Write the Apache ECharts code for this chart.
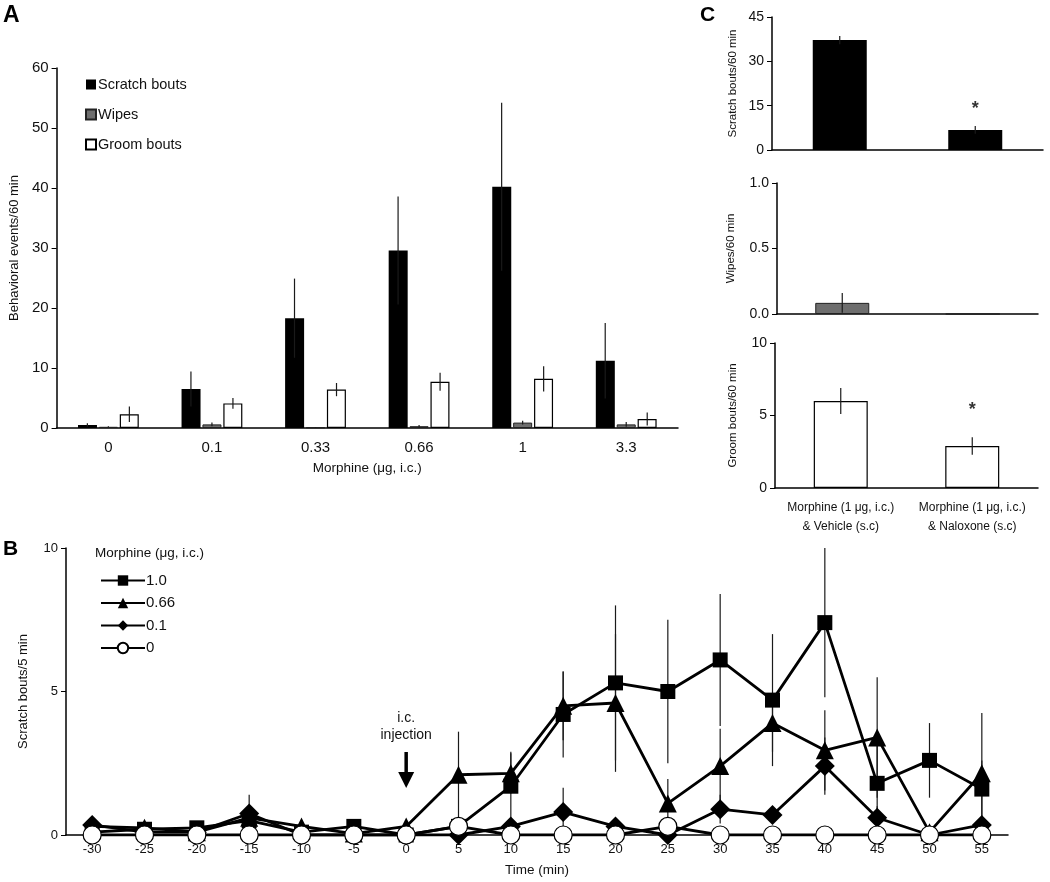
<!DOCTYPE html>
<html><head><meta charset="utf-8">
<script src="https://cdn.jsdelivr.net/npm/echarts@6/dist/echarts.min.js"></script>
<style>html,body{margin:0;padding:0;background:#fff}#c{width:1050px;height:882px}</style>
</head><body><div id="c"></div>
<script>
// ---------- Panel A data ----------
const doses = ['0', '0.1', '0.33', '0.66', '1', '3.3'];
const scratchMean = [0.5, 6.5, 18.3, 29.6, 40.2, 11.2];
const scratchSem  = [0.3, 2.9, 6.6, 9.0, 14.0, 6.3];
const wipesMean   = [0.2, 0.6, 0.1, 0.3, 0.9, 0.6];
const wipesSem    = [0.1, 0.3, 0.05, 0.2, 0.3, 0.4];
const groomMean   = [2.3, 4.1, 6.4, 7.7, 8.2, 1.5];
const groomSem    = [1.3, 0.9, 1.1, 1.5, 2.1, 1.1];

// ---------- Panel C data ----------
const treatments = ['Morphine (1 μg, i.c.)\n& Vehicle (s.c)', 'Morphine (1 μg, i.c.)\n& Naloxone (s.c)'];
const cScratchMean = [37.2, 6.8];
const cScratchSem  = [1.4, 1.3];
const cWipesMean   = [0.085, 0];
const cWipesSem    = [0.075, 0];
const cGroomMean   = [6.0, 2.9];
const cGroomSem    = [0.9, 0.6];
const cScratchStar = [null, 14.0];
const cGroomStar   = [null, 5.4];

// ---------- Panel B data ----------
const times = ['-30','-25','-20','-15','-10','-5','0','5','10','15','20','25','30','35','40','45','50','55'];
const dose10Mean  = [0.1, 0.2, 0.25, 0.5, 0.1, 0.3, 0, 0.3, 1.7, 4.2, 5.3, 5.0, 6.1, 4.7, 7.4, 1.8, 2.6, 1.6];
const dose10Sem   = [0.1, 0.1, 0.1, 0.3, 0.1, 0.1, 0, 0.2, 1.2, 1.5, 2.7, 2.5, 2.3, 2.3, 2.6, 1.3, 1.3, 1.0];
const dose066Mean = [0.3, 0.25, 0.1, 0.6, 0.3, 0.05, 0.3, 2.1, 2.15, 4.5, 4.6, 1.1, 2.4, 3.9, 2.95, 3.4, 0.1, 2.15];
const dose066Sem  = [0.1, 0.1, 0.1, 0.3, 0.1, 0.05, 0.1, 1.5, 0.7, 1.2, 2.4, 0.85, 1.3, 1.0, 1.4, 2.1, 0.1, 2.1];
const dose01Mean  = [0.35, 0.1, 0.1, 0.75, 0, 0, 0, 0, 0.3, 0.8, 0.3, 0, 0.9, 0.7, 2.4, 0.6, 0, 0.35];
const dose01Sem   = [0.2, 0.1, 0.1, 0.65, 0, 0, 0, 0, 0.2, 0.85, 0.2, 0, 0.5, 0.3, 1.0, 0.4, 0, 0.2];
const dose0Mean   = [0, 0, 0, 0, 0, 0, 0, 0.3, 0, 0, 0, 0.3, 0, 0, 0, 0, 0, 0];
const dose0Sem    = [0, 0, 0, 0, 0, 0, 0, 0.2, 0, 0, 0, 0.2, 0, 0, 0, 0, 0, 0];

const FONT = 'Arial, "Liberation Sans", Helvetica, sans-serif';
const chart = echarts.init(document.getElementById('c'));

function errData(means, sems) { return means.map((m, i) => [i, m, sems[i]]); }
function errSeries(xi, yi, means, sems, offset, z) {
  return {
    type: 'custom', xAxisIndex: xi, yAxisIndex: yi, z: z || 5, silent: true,
    data: errData(means, sems),
    renderItem: function (params, api) {
      const i = api.value(0), m = api.value(1), s = api.value(2);
      if (!s) return null;
      const top = api.coord([i, m + s]);
      const bot = api.coord([i, Math.max(0, m - s)]);
      return { type: 'line', shape: { x1: top[0] + offset, y1: top[1], x2: bot[0] + offset, y2: bot[1] },
               style: { stroke: '#1a1a1a', lineWidth: 1.2 } };
    }
  };
}
const axisLine = { show: true, lineStyle: { color: '#000', width: 1.5 } };
const tickLbl = (size) => ({ color: '#111', fontSize: size, fontFamily: FONT });

function lineSeries(name, means, symbol, size, fill) {
  return {
    name: name, type: 'line', xAxisIndex: 4, yAxisIndex: 4, data: means,
    symbol: symbol, symbolSize: size, z: 10,
    lineStyle: { color: '#000', width: 2.8 },
    itemStyle: { color: fill, borderColor: '#000', borderWidth: fill === '#fff' ? 1.2 : 0 },
    emphasis: { disabled: true }
  };
}

const option = {
  animation: false,
  backgroundColor: '#fff',
  textStyle: { fontFamily: FONT },
  grid: [
    { left: 52, right: 372, top: 68, bottom: 454 },   // A
    { left: 772, right: 7, top: 17, bottom: 732 },     // C scratch
    { left: 777, right: 12, top: 183, bottom: 568 },   // C wipes
    { left: 775, right: 12, top: 343, bottom: 394 },   // C groom
    { left: 66, right: 42, top: 548, bottom: 47 }      // B
  ],
  xAxis: [
    { gridIndex: 0, type: 'category', data: doses, axisLine: axisLine, axisTick: { show: false },
      axisLabel: Object.assign(tickLbl(15), { margin: 12 }),
      name: 'Morphine (μg, i.c.)', nameLocation: 'middle', nameGap: 33,
      nameTextStyle: { color: '#111', fontSize: 13.5, fontFamily: FONT } },
    { gridIndex: 1, type: 'category', data: treatments, axisLine: axisLine, axisTick: { show: false }, axisLabel: { show: false } },
    { gridIndex: 2, type: 'category', data: treatments, axisLine: axisLine, axisTick: { show: false }, axisLabel: { show: false } },
    { gridIndex: 3, type: 'category', data: treatments, axisLine: axisLine, axisTick: { show: false },
      axisLabel: Object.assign(tickLbl(12), { margin: 10, lineHeight: 19, interval: 0 }) },
    { gridIndex: 4, type: 'category', data: times, axisLine: axisLine, axisTick: { show: false },
      axisLabel: Object.assign(tickLbl(13), { margin: 8, interval: 0 }),
      name: 'Time (min)', nameLocation: 'middle', nameGap: 28,
      nameTextStyle: { color: '#111', fontSize: 13.5, fontFamily: FONT } }
  ],
  yAxis: [
    { gridIndex: 0, type: 'value', min: 0, max: 60, interval: 10, splitLine: { show: false },
      axisLine: axisLine, axisTick: { show: true, length: 5, lineStyle: { color: '#000' } },
      axisLabel: Object.assign(tickLbl(15), { margin: 8 }),
      name: 'Behavioral events/60 min', nameLocation: 'middle', nameGap: 35,
      nameTextStyle: { color: '#111', fontSize: 13, fontFamily: FONT } },
    { gridIndex: 1, type: 'value', min: 0, max: 45, interval: 15, splitLine: { show: false },
      axisLine: axisLine, axisTick: { show: true, length: 5, lineStyle: { color: '#000' } },
      axisLabel: Object.assign(tickLbl(14), { margin: 8 }),
      name: 'Scratch bouts/60 min', nameLocation: 'middle', nameGap: 33,
      nameTextStyle: { color: '#111', fontSize: 11.5, fontFamily: FONT } },
    { gridIndex: 2, type: 'value', min: 0, max: 1, interval: 0.5, splitLine: { show: false },
      axisLine: axisLine, axisTick: { show: true, length: 5, lineStyle: { color: '#000' } },
      axisLabel: Object.assign(tickLbl(14), { margin: 8, formatter: v => v.toFixed(1) }),
      name: 'Wipes/60 min', nameLocation: 'middle', nameGap: 40,
      nameTextStyle: { color: '#111', fontSize: 11.5, fontFamily: FONT } },
    { gridIndex: 3, type: 'value', min: 0, max: 10, interval: 5, splitLine: { show: false },
      axisLine: axisLine, axisTick: { show: true, length: 5, lineStyle: { color: '#000' } },
      axisLabel: Object.assign(tickLbl(14), { margin: 8 }),
      name: 'Groom bouts/60 min', nameLocation: 'middle', nameGap: 36,
      nameTextStyle: { color: '#111', fontSize: 11.5, fontFamily: FONT } },
    { gridIndex: 4, type: 'value', min: 0, max: 10, interval: 5, splitLine: { show: false },
      axisLine: axisLine, axisTick: { show: true, length: 5, lineStyle: { color: '#000' } },
      axisLabel: Object.assign(tickLbl(13), { margin: 8 }),
      name: 'Scratch bouts/5 min', nameLocation: 'middle', nameGap: 36,
      nameTextStyle: { color: '#111', fontSize: 13, fontFamily: FONT } }
  ],
  legend: [
    { left: 80, top: 72, orient: 'vertical', itemWidth: 10, itemHeight: 10, itemGap: 15,
      icon: 'rect', selectedMode: false,
      data: ['Scratch bouts', 'Wipes', 'Groom bouts'],
      textStyle: { color: '#111', fontSize: 14.5, fontFamily: FONT, padding: [0, 0, 0, -3] } },
    { left: 95, top: 568, orient: 'vertical', itemWidth: 44, itemHeight: 13, itemGap: 7.5,
      selectedMode: false,
      data: ['1.0', '0.66', '0.1', '0'],
      textStyle: { color: '#111', fontSize: 15, fontFamily: FONT, padding: [0, 0, 0, -4] } }
  ],
  series: [
    { name: 'Scratch bouts', type: 'bar', xAxisIndex: 0, yAxisIndex: 0, data: scratchMean, barWidth: 19, barGap: '10%',
      itemStyle: { color: '#000' } },
    { name: 'Wipes', type: 'bar', xAxisIndex: 0, yAxisIndex: 0, data: wipesMean, barWidth: 19, barGap: '10%',
      itemStyle: { color: '#6e6e6e', borderColor: '#222', borderWidth: 1 } },
    { name: 'Groom bouts', type: 'bar', xAxisIndex: 0, yAxisIndex: 0, data: groomMean, barWidth: 19, barGap: '10%',
      itemStyle: { color: '#fff', borderColor: '#000', borderWidth: 1.2 } },
    errSeries(0, 0, scratchMean, scratchSem, -21),
    errSeries(0, 0, wipesMean, wipesSem, 0),
    errSeries(0, 0, groomMean, groomSem, 21),

    { name: 'C scratch', type: 'bar', xAxisIndex: 1, yAxisIndex: 1, data: cScratchMean, barWidth: 54,
      itemStyle: { color: '#000' } },
    { name: 'C wipes', type: 'bar', xAxisIndex: 2, yAxisIndex: 2, data: cWipesMean, barWidth: 54,
      itemStyle: { color: '#6e6e6e', borderColor: '#222', borderWidth: 1 } },
    { name: 'C groom', type: 'bar', xAxisIndex: 3, yAxisIndex: 3, data: cGroomMean, barWidth: 54,
      itemStyle: { color: '#fff', borderColor: '#000', borderWidth: 1.2 } },
    errSeries(1, 1, cScratchMean, cScratchSem, 0),
    errSeries(2, 2, cWipesMean, cWipesSem, 0),
    errSeries(3, 3, cGroomMean, cGroomSem, 0),
    { type: 'scatter', xAxisIndex: 1, yAxisIndex: 1, data: cScratchStar, symbolSize: 0, silent: true,
      label: { show: true, position: 'inside', formatter: '*', fontSize: 18, fontWeight: 'bold', color: '#000' } },
    { type: 'scatter', xAxisIndex: 3, yAxisIndex: 3, data: cGroomStar, symbolSize: 0, silent: true,
      label: { show: true, position: 'inside', formatter: '*', fontSize: 18, fontWeight: 'bold', color: '#000' } },

    errSeries(4, 4, dose10Mean, dose10Sem, 0, 3),
    errSeries(4, 4, dose066Mean, dose066Sem, 0, 3),
    errSeries(4, 4, dose01Mean, dose01Sem, 0, 3),
    errSeries(4, 4, dose0Mean, dose0Sem, 0, 3),
    lineSeries('1.0', dose10Mean, 'rect', 15, '#000'),
    lineSeries('0.66', dose066Mean, 'triangle', 18, '#000'),
    lineSeries('0.1', dose01Mean, 'diamond', 20, '#000'),
    lineSeries('0', dose0Mean, 'circle', 18, '#fff')
  ],
  graphic: [
    { type: 'text', left: 3, top: 4, style: { text: 'A', fontSize: 23, fontWeight: 'bold', fill: '#000', fontFamily: FONT } },
    { type: 'text', left: 3, top: 539, style: { text: 'B', fontSize: 21, fontWeight: 'bold', fill: '#000', fontFamily: FONT } },
    { type: 'text', left: 700, top: 5, style: { text: 'C', fontSize: 21, fontWeight: 'bold', fill: '#000', fontFamily: FONT } },
    { type: 'text', left: 95, top: 546, style: { text: 'Morphine (μg, i.c.)', fontSize: 13.5, fill: '#111', fontFamily: FONT } }
  ]
};
chart.setOption(option);

// injection arrow anchored at time 0 on panel B
const p0 = chart.convertToPixel({ xAxisIndex: 4, yAxisIndex: 4 }, ['0', 0]);
chart.setOption({
  graphic: option.graphic.concat([
    { type: 'text', x: p0[0], y: p0[1] - 125, style: { text: 'i.c.\ninjection', align: 'center', fontSize: 14, lineHeight: 17, fill: '#111', fontFamily: FONT } },
    { type: 'line', shape: { x1: p0[0], y1: p0[1] - 83, x2: p0[0], y2: p0[1] - 62 }, style: { stroke: '#000', lineWidth: 3.5 } },
    { type: 'polygon', shape: { points: [[p0[0] - 8, p0[1] - 63], [p0[0] + 8, p0[1] - 63], [p0[0], p0[1] - 47]] }, style: { fill: '#000' } }
  ])
});
</script>
</body></html>
